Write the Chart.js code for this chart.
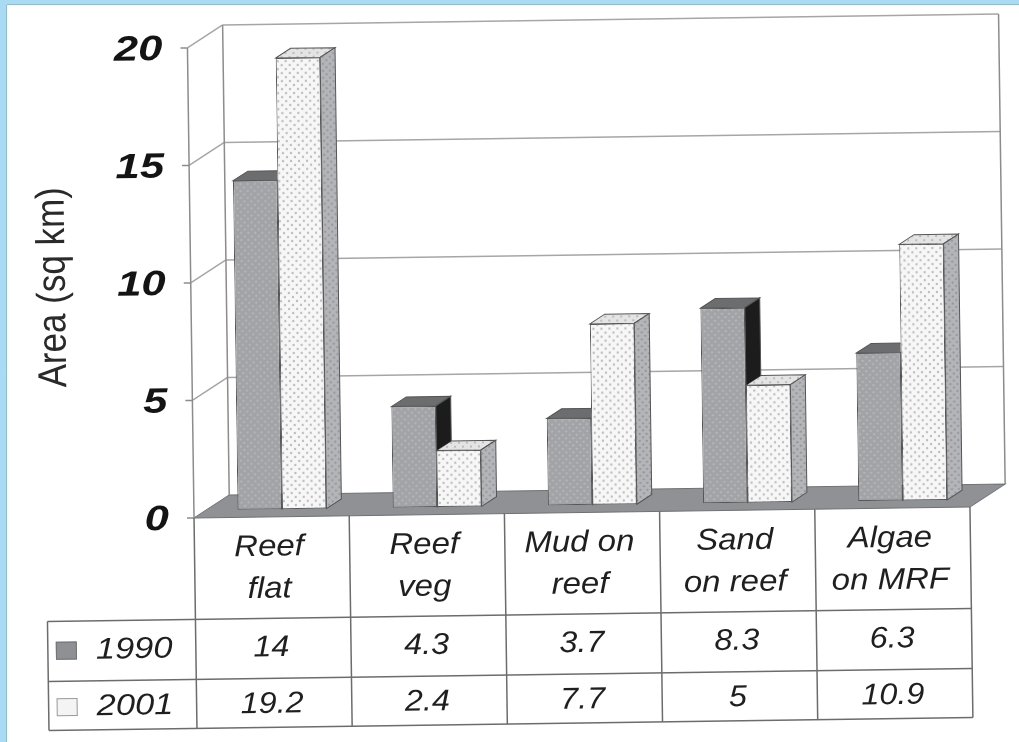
<!DOCTYPE html>
<html>
<head>
<meta charset="utf-8">
<title>Area (sq km) 1990 / 2001</title>
<script src="https://cdn.jsdelivr.net/npm/chart.js@4.4.1/dist/chart.umd.min.js"></script>
<style>
  html, body { margin: 0; padding: 0; background: #ffffff; }
  canvas { display: block; }
</style>
</head>
<body>
<canvas id="chart" width="1019" height="742"></canvas>
<script>
// ---- data ----
const categories = [["Reef", "flat"], ["Reef", "veg"], ["Mud on", "reef"], ["Sand", "on reef"], ["Algae", "on MRF"]];
const seriesNames = ["1990", "2001"];
const values1990 = [14, 4.3, 3.7, 8.3, 6.3];
const values2001 = [19.2, 2.4, 7.7, 5, 10.9];
const yTicks = [0, 5, 10, 15, 20];
const yTitle = "Area (sq km)";

// ---- geometry of the 3-D box (pixels) ----
const TILT = { angle: -0.014, cx: 509, cy: 371 };   // the whole figure sits slightly askew
const BAR_PLANE = { x: 10.5, y: -7.5 };             // bar fronts stand this far behind the front edge
const WALL = { x: 35.5, y: -22.5 };                 // front edge -> back wall
const BAR_DEPTH = { x: 15, y: -9.5 };               // thickness of each bar
const TABLE = { headerBottom: 615, row1Bottom: 675, bottom: 724, legendLeft: 44,
                head1: 544, head2: 586, row1: 644.5, row2: 701 };

// ---- fills ----
function dotPattern(bg, dot, step, r) {
  const c = document.createElement('canvas');
  c.width = step; c.height = step;
  const g = c.getContext('2d');
  g.fillStyle = bg; g.fillRect(0, 0, step, step);
  g.fillStyle = dot;
  [[step * 0.25, step * 0.25], [step * 0.75, step * 0.75]].forEach(([x, y]) => {
    g.beginPath(); g.arc(x, y, r, 0, Math.PI * 2); g.fill();
  });
  return g.createPattern(c, 'repeat');
}
const STYLE = {
  front: [dotPattern('#a1a3a6', '#b8babd', 7, 1.1), dotPattern('#f7f7f7', '#bdbdbd', 8, 1.2)],
  top: ['#6c6d6f', dotPattern('#e4e4e4', '#b2b2b2', 8, 1.1)],
  side: ['#1c1c1c', dotPattern('#b3b5b8', '#8e9093', 7, 1.1)],
  edge: '#555555',
  floor: '#8f9194',
  grid: '#a6a6a6',
  frame: '#8c8c8c',
  table: '#6c6c6c',
  text: '#1f1f1f'
};

function poly(ctx, pts, fill, stroke) {
  ctx.beginPath();
  pts.forEach(([x, y], i) => (i ? ctx.lineTo(x, y) : ctx.moveTo(x, y)));
  ctx.closePath();
  if (fill) { ctx.fillStyle = fill; ctx.fill(); }
  if (stroke) { ctx.strokeStyle = stroke; ctx.lineWidth = 1; ctx.stroke(); }
}
function line(ctx, x1, y1, x2, y2) {
  ctx.beginPath(); ctx.moveTo(x1, y1); ctx.lineTo(x2, y2); ctx.stroke();
}
function stretchedText(ctx, text, x, y, sx, align) {
  ctx.save();
  ctx.translate(x, y); ctx.scale(sx, 1);
  ctx.textAlign = align; ctx.fillText(text, 0, 0);
  ctx.restore();
}

// front-plane helpers, derived from the chart's own scales
function box(chart) {
  const xs = chart.scales.x, ys = chart.scales.y;
  const cat = (xs.right - xs.left) / categories.length;
  const left = xs.left - BAR_PLANE.x;
  const right = xs.right - BAR_PLANE.x;
  const yF = v => ys.getPixelForValue(v) - BAR_PLANE.y;
  const colCenter = i => xs.getPixelForValue(i) - BAR_PLANE.x;
  return { cat, left, right, yF, colCenter };
}

function drawFaces(ctx, bar, top, side) {
  const L = bar.x - bar.width / 2, R = bar.x + bar.width / 2, T = bar.y, B = bar.base;
  const dx = BAR_DEPTH.x, dy = BAR_DEPTH.y;
  poly(ctx, [[L, T], [R, T], [R + dx, T + dy], [L + dx, T + dy]], top, STYLE.edge);
  poly(ctx, [[R, T], [R + dx, T + dy], [R + dx, B + dy], [R, B]], side, STYLE.edge);
}

const box3d = {
  id: 'box3d',
  beforeDraw(chart) {
    const ctx = chart.ctx;
    ctx.save();
    ctx.translate(TILT.cx, TILT.cy);
    ctx.rotate(TILT.angle);
    ctx.translate(-TILT.cx, -TILT.cy);
  },
  beforeDatasetsDraw(chart) {
    const ctx = chart.ctx;
    const b = box(chart);
    const top = b.yF(yTicks[yTicks.length - 1]), zero = b.yF(0);
    ctx.save();
    // floor
    poly(ctx, [[b.left, zero], [b.right, zero], [b.right + WALL.x, zero + WALL.y], [b.left + WALL.x, zero + WALL.y]],
         STYLE.floor, '#6f7173');
    // gridlines on back and side wall, ticks on the front edge
    ctx.lineWidth = 1.5;
    yTicks.forEach(v => {
      const y = b.yF(v);
      ctx.strokeStyle = STYLE.grid;
      if (v > 0) {
        line(ctx, b.left, y, b.left + WALL.x, y + WALL.y);
        line(ctx, b.left + WALL.x, y + WALL.y, b.right + WALL.x, y + WALL.y);
      }
      ctx.strokeStyle = STYLE.frame;
      line(ctx, b.left - 7, y, b.left, y);
    });
    ctx.strokeStyle = STYLE.frame;
    line(ctx, b.left, top, b.left, zero);
    line(ctx, b.left + WALL.x, top + WALL.y, b.left + WALL.x, zero + WALL.y);
    line(ctx, b.right + WALL.x, top + WALL.y, b.right + WALL.x, zero + WALL.y);
    ctx.restore();
  },
  afterDatasetDraw(chart, args) {
    const ctx = chart.ctx;
    const i = args.index;
    const meta = chart.getDatasetMeta(i);
    ctx.save();
    meta.data.forEach((bar, k) => {
      ctx.save();
      if (i === 0) {
        // hide whatever falls behind the neighbouring 2001 bar
        const nb = chart.getDatasetMeta(1).data[k];
        const L = nb.x - nb.width / 2, R = nb.x + nb.width / 2, T = nb.y, B = nb.base;
        const dx = BAR_DEPTH.x, dy = BAR_DEPTH.y;
        ctx.beginPath();
        ctx.rect(-200, -200, chart.width + 400, chart.height + 400);
        ctx.moveTo(L, B); ctx.lineTo(L, T); ctx.lineTo(L + dx, T + dy); ctx.lineTo(R + dx, T + dy);
        ctx.lineTo(R + dx, B + dy); ctx.lineTo(R, B); ctx.closePath();
        ctx.clip('evenodd');
      }
      drawFaces(ctx, bar, STYLE.top[i], STYLE.side[i]);
      ctx.restore();
    });
    ctx.restore();
  },
  afterDraw(chart) {
    const ctx = chart.ctx;
    const b = box(chart);
    const zero = b.yF(0);

    // y tick labels
    ctx.fillStyle = '#141414';
    ctx.font = 'italic bold 35px "Liberation Sans", Arial, sans-serif';
    ctx.textBaseline = 'middle';
    yTicks.forEach(v => stretchedText(ctx, String(v), b.left - 25, b.yF(v) + 2, 1.25, 'right'));

    // y axis title
    ctx.save();
    ctx.fillStyle = '#2a2a2a';
    ctx.font = '35px "Liberation Sans", Arial, sans-serif';
    ctx.translate(55, 281);
    ctx.rotate(-Math.PI / 2);
    ctx.scale(1, 1.15);
    ctx.textAlign = 'center';
    ctx.fillText(yTitle, 0, 0);
    ctx.restore();

    // data table
    ctx.save();
    ctx.strokeStyle = STYLE.table;
    ctx.lineWidth = 1.5;
    for (let i = 0; i <= categories.length; i++) {
      const x = b.left + i * b.cat;
      line(ctx, x, zero, x, TABLE.bottom);
    }
    [TABLE.headerBottom, TABLE.row1Bottom, TABLE.bottom].forEach(y => line(ctx, TABLE.legendLeft, y, b.right, y));
    line(ctx, TABLE.legendLeft, TABLE.headerBottom, TABLE.legendLeft, TABLE.bottom);

    ctx.fillStyle = STYLE.text;
    ctx.font = 'italic 30px "Liberation Sans", Arial, sans-serif';
    ctx.textBaseline = 'middle';
    categories.forEach((lines, i) => {
      const cx = b.colCenter(i) - 3;
      stretchedText(ctx, lines[0], cx, TABLE.head1, 1.1, 'center');
      stretchedText(ctx, lines[1], cx, TABLE.head2, 1.1, 'center');
    });
    const rows = [[values1990, TABLE.row1], [values2001, TABLE.row2]];
    rows.forEach(([vals, y]) => {
      vals.forEach((v, i) => stretchedText(ctx, String(v), b.colCenter(i) - 2, y, 1.08, 'center'));
    });

    // legend keys in the table
    const keyFill = ['#8e9093', '#f4f4f4'];
    const keyEdge = ['#707274', '#9a9a9a'];
    rows.forEach(([, y], i) => {
      ctx.fillStyle = keyFill[i];
      ctx.fillRect(52, y - 9, 21, 18);
      ctx.strokeStyle = keyEdge[i];
      ctx.lineWidth = 1;
      ctx.strokeRect(52.5, y - 8.5, 20, 17);
      ctx.fillStyle = STYLE.text;
      stretchedText(ctx, seriesNames[i], 92, y, 1.15, 'left');
    });
    ctx.restore();

    ctx.restore(); // undo the tilt

    // light blue mount around the figure
    ctx.save();
    ctx.fillStyle = '#a9dbf5';
    ctx.fillRect(0, 0, chart.width, 5);
    ctx.fillRect(0, 0, 7, chart.height);
    ctx.strokeStyle = '#8dbcd6';
    ctx.lineWidth = 1;
    line(ctx, 7, 4.5, chart.width, 4.5);
    line(ctx, 6.5, 5, 6.5, chart.height);
    ctx.restore();
  }
};

new Chart(document.getElementById('chart'), {
  type: 'bar',
  data: {
    labels: categories.map(c => c.join(' ')),
    datasets: [
      { label: seriesNames[0], data: values1990, backgroundColor: STYLE.front[0],
        borderColor: STYLE.edge, borderWidth: 1, borderSkipped: false,
        categoryPercentage: 0.573, barPercentage: 1 },
      { label: seriesNames[1], data: values2001, backgroundColor: STYLE.front[1],
        borderColor: STYLE.edge, borderWidth: 1, borderSkipped: false,
        categoryPercentage: 0.573, barPercentage: 1 }
    ]
  },
  options: {
    responsive: false,
    animation: false,
    devicePixelRatio: 1,
    layout: { padding: { left: 202.5, right: 40.5, top: 36, bottom: 236 } },
    scales: {
      x: { display: false },
      y: { display: false, min: 0, max: 20 }
    },
    plugins: { legend: { display: false }, tooltip: { enabled: false } }
  },
  plugins: [box3d]
});
</script>
</body>
</html>
